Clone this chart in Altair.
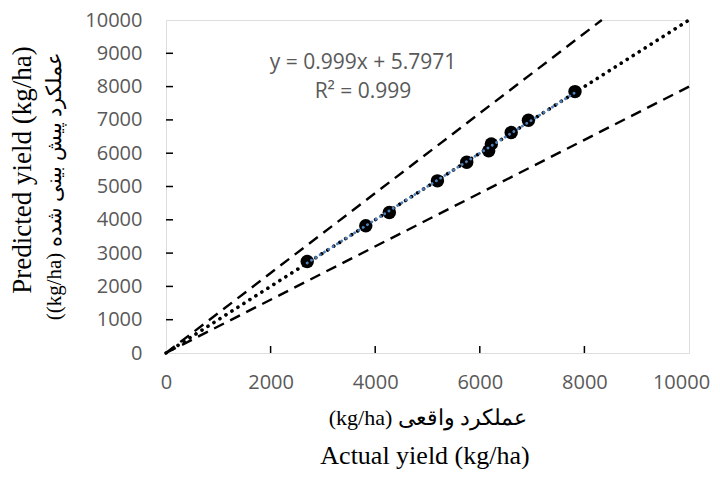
import altair as alt
import pandas as pd

# Observed points (actual vs predicted yield, kg/ha)
actual = [2700, 3820, 4270, 5190, 5750, 6170, 6220, 6600, 6930, 7820]
predicted = [2750, 3820, 4220, 5170, 5730, 6070, 6280, 6620, 6990, 7850]

# Fitted trend line y = 0.999x + 5.7971
slope = 0.999
intercept = 5.7971
trend_x = [min(actual), max(actual)]
trend_y = [slope * v + intercept for v in trend_x]

# 1:1 line and +/-20 % lines
one_x = [0, 10000]
one_y = [0, 10000]
upper_x = [0, 8333]
upper_y = [0, 10000]
lower_x = [0, 10000]
lower_y = [0, 8000]

x_tick_values = [0, 2000, 4000, 6000, 8000, 10000]
y_tick_values = [0, 1000, 2000, 3000, 4000, 5000, 6000, 7000, 8000, 9000, 10000]
x_inner_ticks = [2000, 4000, 6000, 8000]
y_inner_ticks = [1000, 2000, 3000, 4000, 5000, 6000, 7000, 8000, 9000]

eq_line1 = "y = 0.999x + 5.7971"
eq_line2 = "R² = 0.999"

x_title_fa = "(kg/ha) عملکرد واقعی"
x_title_en = "Actual yield (kg/ha)"
y_title_en = "Predicted yield (kg/ha)"
y_title_fa = "((kg/ha) عملکرد پیش بینی شده"

W, H = 523, 333
GRAY = "#595959"
SERIF = "Liberation Serif"
SANS = "Open Sans"

x_axis = alt.Axis(
    values=x_tick_values, format="d", title=None,
    labelFont=SANS, labelFontSize=20, labelColor=GRAY, labelPadding=19,
    labelFlush=False, labelOverlap=False,
    labelOffset=alt.expr("datum.value == 10000 ? -8 : 0"),
    ticks=False, domain=False, grid=False,
)
y_axis = alt.Axis(
    values=y_tick_values, format="d", title=None,
    labelFont=SANS, labelFontSize=20, labelColor=GRAY, labelPadding=24,
    labelFlush=False, labelOverlap=False,
    ticks=False, domain=False, grid=False,
)
xs = alt.Scale(domain=[0, 10000], nice=False, zero=False)
ys = alt.Scale(domain=[0, 10000], nice=False, zero=False)


def X():
    return alt.X("x:Q", scale=xs, axis=x_axis)


def Y():
    return alt.Y("y:Q", scale=ys, axis=y_axis)


pts = pd.DataFrame({"x": actual, "y": predicted})
trend = pd.DataFrame({"x": trend_x, "y": trend_y})
one = pd.DataFrame({"x": one_x, "y": one_y})
upper = pd.DataFrame({"x": upper_x, "y": upper_y})
lower = pd.DataFrame({"x": lower_x, "y": lower_y})

dash = dict(color="black", strokeWidth=2.4, strokeDash=[11, 7])
upper_line = alt.Chart(upper).mark_line(**dash).encode(x=X(), y=Y())
lower_line = alt.Chart(lower).mark_line(**dash).encode(x=X(), y=Y())
one_line = alt.Chart(one).mark_line(
    color="black", strokeWidth=3.6, strokeDash=[0.1, 7], strokeCap="round"
).encode(x=X(), y=Y())
points = alt.Chart(pts).mark_circle(color="black", opacity=1, size=180).encode(x=X(), y=Y())
trend_line = alt.Chart(trend).mark_line(
    color="#4F81BD", strokeWidth=2.8, strokeDash=[0.1, 5], strokeCap="round"
).encode(x=X(), y=Y())

xt = alt.Chart(pd.DataFrame({"x": x_inner_ticks})).mark_rule(color="black", strokeWidth=1.5).encode(
    x=X(), y=alt.value(H), y2=alt.value(H - 7)
)
yt = alt.Chart(pd.DataFrame({"y": y_inner_ticks})).mark_rule(color="black", strokeWidth=1.5).encode(
    y=Y(), x=alt.value(0), x2=alt.value(7)
)


def label(text, px, py, font, size, color="black", angle=0):
    return alt.Chart(pd.DataFrame({"t": [text]})).mark_text(
        font=font, fontSize=size, color=color, align="center", baseline="middle", angle=angle
    ).encode(text="t:N", x=alt.value(px), y=alt.value(py))


eq1 = label(eq_line1, 197, 43, SANS, 21, GRAY)
eq2 = label(eq_line2, 197, 72, SANS, 21, GRAY)
xt_fa = label(x_title_fa, 262, 398, SERIF, 22)
xt_en = label(x_title_en, 259, 436, SERIF, 26)
yt_en = label(y_title_en, -143, 150, SERIF, 27, angle=270)
yt_fa = label(y_title_fa, -111, 166, SERIF, 21, angle=270)

chart = alt.layer(
    upper_line, lower_line, one_line, points, trend_line, xt, yt, eq1, eq2,
    xt_fa, xt_en, yt_en, yt_fa
).properties(
    width=W, height=H, autosize="none",
    padding={"left": 158, "top": 12, "right": 23, "bottom": 116},
).configure_view(
    stroke="black", strokeWidth=2
).configure(background="white")

chart.save("out.html", embed_options={"renderer": "svg", "actions": False})
